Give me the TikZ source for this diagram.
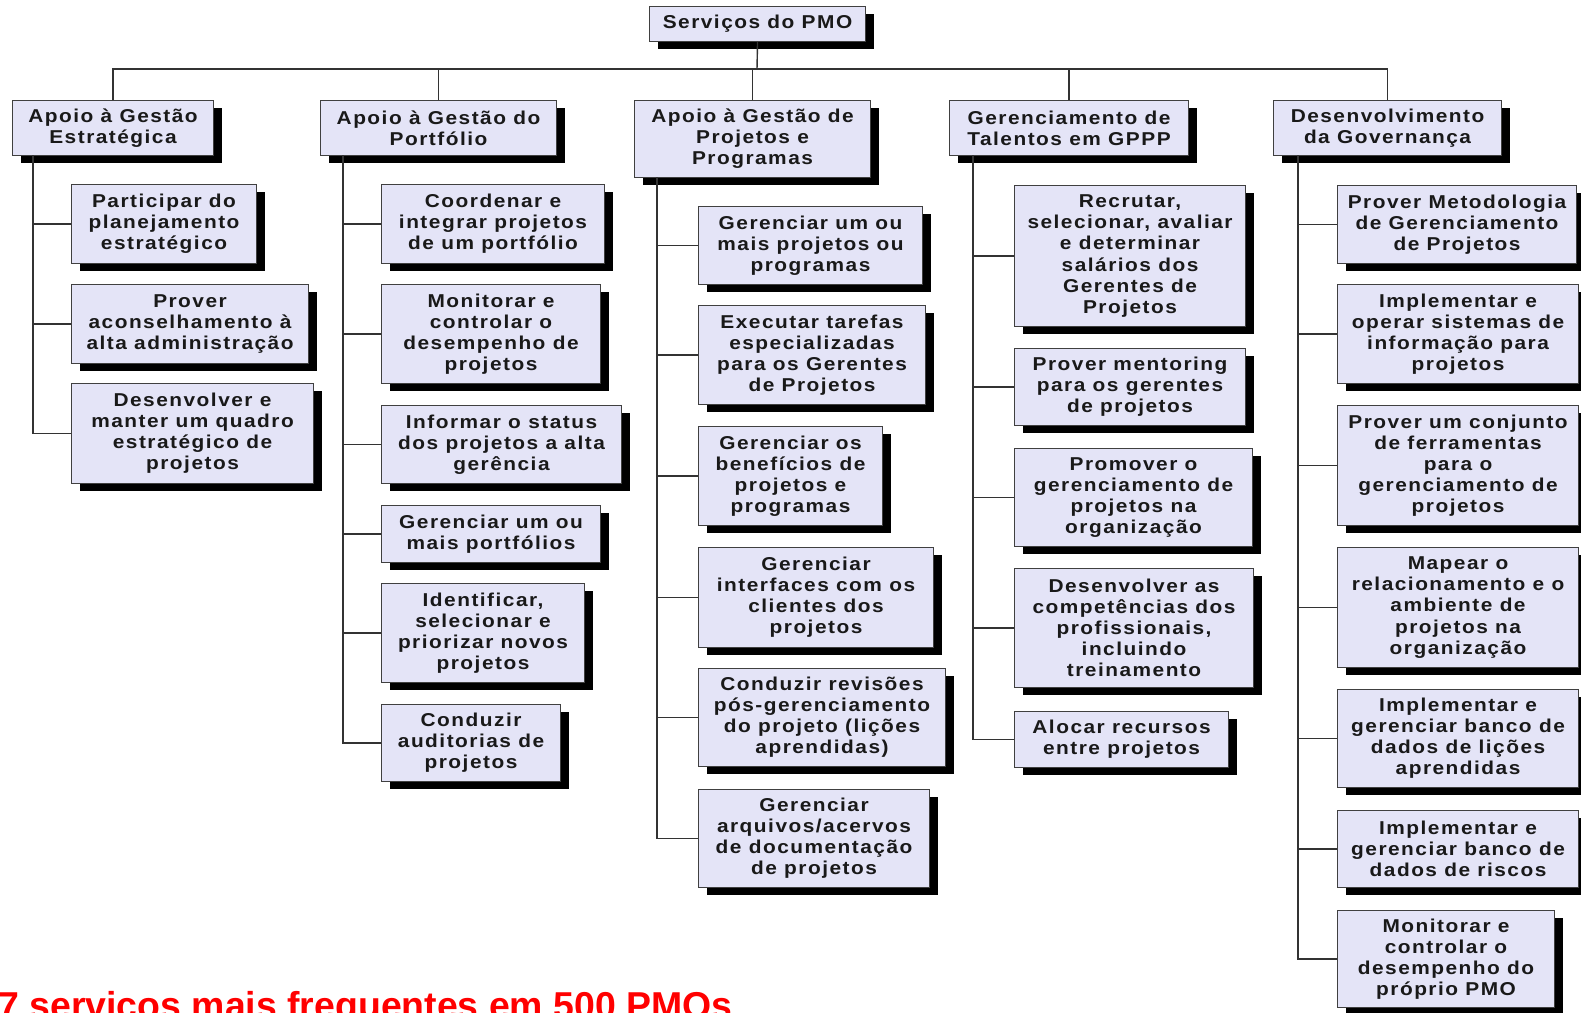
\documentclass[tikz,border=0pt]{standalone}
\usepackage{fontspec}
\usetikzlibrary{shadows}
\newfontfamily\boxfont[FakeStretch=1.12,LetterSpace=8,BoldFont={Liberation Sans Bold}]{Liberation Sans}
\newfontfamily\notefont[BoldFont={Liberation Sans Bold}]{Liberation Sans}
\newcommand{\unitsize}{0.02cm}
\definecolor{pmofill}{RGB}{228,228,247}
\definecolor{pmored}{RGB}{255,0,0}

\begin{document}
\begin{tikzpicture}[x=\unitsize, y=-\unitsize]
\useasboundingbox (0,0) rectangle (1581,1012);
\tikzstyle{svc}=[draw=black!75,
                 line width=0.6pt,
                 fill=pmofill,
                 anchor=north west,
                 align=center,
                 inner sep=0pt,
                 text=black!90,
                 font=\boxfont\bfseries\fontsize{10.6pt}{12pt}\selectfont,
                 drop shadow={shadow xshift=8*\unitsize, shadow yshift=-7*\unitsize, fill=black, opacity=1}
                 ]
\tikzstyle{sz}=[minimum width=#1*\unitsize]
\tikzstyle{ht}=[minimum height=#1*\unitsize]
\tikzstyle{link}=[draw=black!80, line width=0.8pt]

\node[svc, sz=216, ht=35] (root) at (649,6) {Serviços do PMO};

\node[svc, sz=201, ht=55] (ga) at (12,100) {Apoio à Gestão\\Estratégica};
\node[svc, sz=236, ht=55] (gb) at (320,100) {Apoio à Gestão do\\Portfólio};
\node[svc, sz=236, ht=77] (gc) at (634,100) {Apoio à Gestão de\\Projetos e\\Programas};
\node[svc, sz=239, ht=55] (gd) at (949,100) {Gerenciamento de\\Talentos em GPPP};
\node[svc, sz=228, ht=55] (ge) at (1273,100) {Desenvolvimento\\da Governança};

\node[svc, sz=185, ht=79] (a1) at (71,184) {Participar do\\planejamento\\estratégico};
\node[svc, sz=237, ht=79] (a2) at (71,284) {Prover\\aconselhamento à\\alta administração};
\node[svc, sz=242, ht=100] (a3) at (71,383) {Desenvolver e\\manter um quadro\\estratégico de\\projetos};

\node[svc, sz=223, ht=79] (b1) at (381,184) {Coordenar e\\integrar projetos\\de um portfólio};
\node[svc, sz=219, ht=99] (b2) at (381,284) {Monitorar e\\controlar o\\desempenho de\\projetos};
\node[svc, sz=240, ht=78] (b3) at (381,405) {Informar o status\\dos projetos a alta\\gerência};
\node[svc, sz=219, ht=57] (b4) at (381,505) {Gerenciar um ou\\mais portfólios};
\node[svc, sz=203, ht=99] (b5) at (381,583) {Identificar,\\selecionar e\\priorizar novos\\projetos};
\node[svc, sz=179, ht=77] (b6) at (381,704) {Conduzir\\auditorias de\\projetos};

\node[svc, sz=224, ht=78] (c1) at (698,206) {Gerenciar um ou\\mais projetos ou\\programas};
\node[svc, sz=227, ht=99] (c2) at (698,305) {Executar tarefas\\especializadas\\para os Gerentes\\de Projetos};
\node[svc, sz=184, ht=99] (c3) at (698,426) {Gerenciar os\\benefícios de\\projetos e\\programas};
\node[svc, sz=235, ht=100] (c4) at (698,547) {Gerenciar\\interfaces com os\\clientes dos\\projetos};
\node[svc, sz=247, ht=98] (c5) at (698,668) {Conduzir revisões\\pós-gerenciamento\\do projeto (lições\\aprendidas)};
\node[svc, sz=231, ht=98] (c6) at (698,789) {Gerenciar\\arquivos/acervos\\de documentação\\de projetos};

\node[svc, sz=231, ht=141] (d1) at (1014,185) {Recrutar,\\selecionar, avaliar\\e determinar\\salários dos\\Gerentes de\\Projetos};
\node[svc, sz=231, ht=77] (d2) at (1014,348) {Prover mentoring\\para os gerentes\\de projetos};
\node[svc, sz=238, ht=98] (d3) at (1014,448) {Promover o\\gerenciamento de\\projetos na\\organização};
\node[svc, sz=239, ht=119] (d4) at (1014,568) {Desenvolver as\\competências dos\\profissionais,\\incluindo\\treinamento};
\node[svc, sz=214, ht=56] (d5) at (1014,711) {Alocar recursos\\entre projetos};

\node[svc, sz=239, ht=78] (e1) at (1337,185) {Prover Metodologia\\de Gerenciamento\\de Projetos};
\node[svc, sz=241, ht=99] (e2) at (1337,284) {Implementar e\\operar sistemas de\\informação para\\projetos};
\node[svc, sz=241, ht=120] (e3) at (1337,405) {Prover um conjunto\\de ferramentas\\para o\\gerenciamento de\\projetos};
\node[svc, sz=241, ht=120] (e4) at (1337,547) {Mapear o\\relacionamento e o\\ambiente de\\projetos na\\organização};
\node[svc, sz=241, ht=98] (e5) at (1337,689) {Implementar e\\gerenciar banco de\\dados de lições\\aprendidas};
\node[svc, sz=241, ht=77] (e6) at (1337,810) {Implementar e\\gerenciar banco de\\dados de riscos};
\node[svc, sz=217, ht=97] (e7) at (1337,910) {Monitorar e\\controlar o\\desempenho do\\próprio PMO};

\coordinate (hub) at (757,69);
\draw[link] (root.south) -- (hub);
\draw[link] (ga.north) |- (hub) -| (ge.north);
\draw[link] (gb.north) -- (gb.north |- hub);
\draw[link] (gc.north) -- (gc.north |- hub);
\draw[link] (gd.north) -- (gd.north |- hub);

\coordinate (ta) at (33,155);
\coordinate (tb) at (343,155);
\coordinate (tc) at (657,177);
\coordinate (td) at (973,155);
\coordinate (te) at (1298,155);

\draw[link] (ta) |- (a1.west);
\draw[link] (ta) |- (a2.west);
\draw[link] (ta) |- (a3.west);

\draw[link] (tb) |- (b1.west);
\draw[link] (tb) |- (b2.west);
\draw[link] (tb) |- (b3.west);
\draw[link] (tb) |- (b4.west);
\draw[link] (tb) |- (b5.west);
\draw[link] (tb) |- (b6.west);

\draw[link] (tc) |- (c1.west);
\draw[link] (tc) |- (c2.west);
\draw[link] (tc) |- (c3.west);
\draw[link] (tc) |- (c4.west);
\draw[link] (tc) |- (c5.west);
\draw[link] (tc) |- (c6.west);

\draw[link] (td) |- (d1.west);
\draw[link] (td) |- (d2.west);
\draw[link] (td) |- (d3.west);
\draw[link] (td) |- (d4.west);
\draw[link] (td) |- (d5.west);

\draw[link] (te) |- (e1.west);
\draw[link] (te) |- (e2.west);
\draw[link] (te) |- (e3.west);
\draw[link] (te) |- (e4.west);
\draw[link] (te) |- (e5.west);
\draw[link] (te) |- (e6.west);
\draw[link] (te) |- (e7.west);

\node[anchor=base west, inner sep=0pt, text=pmored, font=\notefont\bfseries\fontsize{21.3pt}{24pt}\selectfont] (note) at (-2,1018) {7 serviços mais frequentes em 500 PMOs};

\end{tikzpicture}
\end{document}
